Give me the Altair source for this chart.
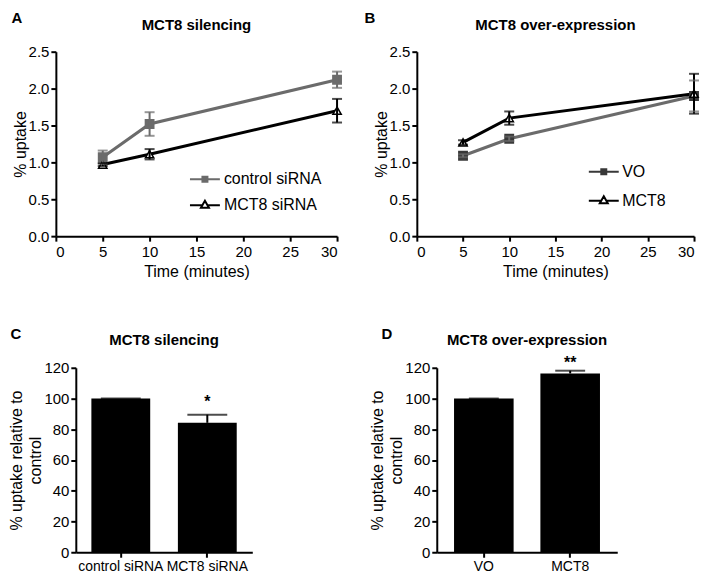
import altair as alt
import pandas as pd

FONT = "Liberation Sans"

# ---- data ----
time_min = [5, 10, 30]

# Panel A: MCT8 silencing
sil_series = ["control siRNA", "MCT8 siRNA"]
ctrl_sirna = [1.07, 1.52, 2.12]
ctrl_sirna_err = [0.09, 0.16, 0.11]
mct8_sirna = [0.97, 1.11, 1.70]
mct8_sirna_err = [0.02, 0.07, 0.16]

# Panel B: MCT8 over-expression
ovx_series = ["VO", "MCT8"]
vo_uptake = [1.09, 1.32, 1.90]
vo_err = [0.02, 0.03, 0.21]
mct8_uptake = [1.27, 1.60, 1.93]
mct8_err = [0.03, 0.09, 0.27]

y_ticks_line = [0, 0.5, 1.0, 1.5, 2.0, 2.5]
x_ticks_line = [0, 5, 10, 15, 20, 25, 30]

# Panel C
sil_groups = ["control siRNA", "MCT8 siRNA"]
sil_values = [100, 84.2]
sil_err = [0, 5.3]
sil_stars = ["", "*"]
sil_star_y = [0, 98]

# Panel D
ovx_groups = ["VO", "MCT8"]
ovx_values = [100, 116.3]
ovx_err = [0, 1.8]
ovx_stars = ["", "**"]
ovx_star_y = [0, 123.4]

y_ticks_bar = [0, 20, 40, 60, 80, 100, 120]

panel_letters = ["A", "B", "C", "D"]

SQ_PATH = "M-1.2,0H1.2M-0.2,-0.2H0.2V0.2H-0.2Z"
TRI_PATH = "M-1.2,0H-0.2M0.2,0H1.2M0,-0.36L0.32,0.2L-0.32,0.2Z"

H = 185


def spacer(w, letter, ldx, ldy):
    base = alt.Chart(pd.DataFrame({"s": [0], "t": [letter]}))
    inv = base.mark_point(opacity=0).encode(
        x=alt.X("s:Q", axis=None), y=alt.Y("s:Q", axis=None))
    txt = base.mark_text(font=FONT, fontSize=15, fontWeight="bold", color="black",
                         align="center", baseline="middle").encode(
        text="t:N", x=alt.value(ldx), y=alt.value(ldy))
    return alt.layer(inv, txt).properties(width=w, height=H)


def line_panel(names, ys, errs, colors, fills, title,
               leg_x, leg_y, row_pad, label_off, width):
    rows = []
    for name, yv, ev in zip(names, ys, errs):
        for t, v, e in zip(time_min, yv, ev):
            rows.append(dict(series=name, time=t, value=v, lo=v - e, hi=v + e))
    df = pd.DataFrame(rows)
    base = alt.Chart(df)
    x = alt.X("time:Q", scale=alt.Scale(domain=[0, 30], nice=False),
              axis=alt.Axis(values=x_ticks_line, title="Time (minutes)",
                            labelPadding=3, titlePadding=4, labelOverlap=False))
    y = alt.Y("value:Q", scale=alt.Scale(domain=[0, 2.5], nice=False),
              axis=alt.Axis(values=y_ticks_line, format=".1f", title="% uptake",
                            labelPadding=2, titlePadding=0, labelOverlap=False,
                            tickCount=6))
    col = alt.Color("series:N", scale=alt.Scale(domain=names, range=colors), legend=None)
    lines = base.mark_line(strokeWidth=3).encode(x=x, y=y, color=col)
    rule = base.mark_rule(strokeWidth=2).encode(x="time:Q", y="lo:Q", y2="hi:Q", color=col)
    cap_lo = base.mark_tick(orient="horizontal", size=10, thickness=2).encode(
        x="time:Q", y="lo:Q", color=col)
    cap_hi = base.mark_tick(orient="horizontal", size=10, thickness=2).encode(
        x="time:Q", y="hi:Q", color=col)
    pts = base.mark_point(filled=True, strokeWidth=1.5, opacity=1).encode(
        x="time:Q", y="value:Q",
        shape=alt.Shape("series:N", scale=alt.Scale(domain=names, range=["square", "triangle-up"]), legend=None),
        fill=alt.Fill("series:N", scale=alt.Scale(domain=names, range=fills), legend=None),
        stroke=alt.Stroke("series:N", scale=alt.Scale(domain=names, range=colors), legend=None),
        size=alt.value(70),
    )
    leg = alt.Legend(orient="none", legendX=leg_x, legendY=leg_y, title=None,
                     symbolSize=625, symbolStrokeWidth=2, labelFont=FONT,
                     labelFontSize=16, labelColor="black", labelOffset=label_off,
                     rowPadding=row_pad, padding=0, symbolOpacity=1)
    legend_layer = base.transform_filter("false").mark_point(filled=True).encode(
        shape=alt.Shape("series:N", scale=alt.Scale(domain=names, range=[SQ_PATH, TRI_PATH]), legend=leg),
        fill=alt.Fill("series:N", scale=alt.Scale(domain=names, range=fills), legend=leg),
        stroke=alt.Stroke("series:N", scale=alt.Scale(domain=names, range=colors), legend=leg),
    )
    return alt.layer(lines, pts, rule, cap_lo, cap_hi, legend_layer).resolve_scale(
        shape="independent", fill="independent", stroke="independent"
    ).properties(width=width, height=H,
                 title=alt.TitleParams(title, frame="group", offset=12))


def bar_panel(groups, values, errs, stars, star_y, title, width, pin, pout, cap, toff):
    df = pd.DataFrame({"group": groups, "value": values,
                       "hi": [v + e for v, e in zip(values, errs)],
                       "star": stars, "star_y": star_y})
    base = alt.Chart(df)
    x = alt.X("group:N", sort=groups,
              scale=alt.Scale(paddingInner=pin, paddingOuter=pout),
              axis=alt.Axis(title=None, labelAngle=0, labelFontSize=14, labelPadding=2))
    y = alt.Y("value:Q", scale=alt.Scale(domain=[0, 120], nice=False),
              axis=alt.Axis(values=y_ticks_bar, title=["% uptake relative to", "control"],
                            titleLineHeight=19, labelPadding=2, titlePadding=0,
                            labelOverlap=False, tickCount=7))
    bars = base.mark_bar(color="black").encode(x=x, y=y)
    rule = base.mark_rule(strokeWidth=2, color="black").encode(
        x=alt.X("group:N", sort=groups), y="value:Q", y2="hi:Q")
    caps = base.mark_tick(orient="horizontal", size=cap, thickness=2, color="black").encode(
        x=alt.X("group:N", sort=groups), y="hi:Q")
    st = base.mark_text(font=FONT, fontSize=16, fontWeight="bold", color="black",
                        baseline="middle").encode(
        x=alt.X("group:N", sort=groups), y="star_y:Q", text="star:N")
    return alt.layer(bars, rule, caps, st).properties(
        width=width, height=H,
        title=alt.TitleParams(title, frame="group", offset=toff))


panel_a = line_panel(sil_series, [ctrl_sirna, mct8_sirna], [ctrl_sirna_err, mct8_sirna_err],
                     ["#6b6b6b", "black"], ["#6b6b6b", "white"], "MCT8 silencing",
                     136, 114.5, 4, 5.5, 282)
panel_b = line_panel(ovx_series, [vo_uptake, mct8_uptake], [vo_err, mct8_err],
                     ["#383838", "black"], ["#383838", "white"], "MCT8 over-expression",
                     174, 107, 7, 5, 278)
panel_c = bar_panel(sil_groups, sil_values, sil_err, sil_stars, sil_star_y,
                    "MCT8 silencing", 177, 0.32, 0.18, 40, 13)
panel_d = bar_panel(ovx_groups, ovx_values, ovx_err, ovx_stars, ovx_star_y,
                    "MCT8 over-expression", 181, 0.31, 0.2, 30, 7)

row1 = alt.hconcat(spacer(1, panel_letters[0], -38, -34), panel_a,
                   spacer(80, panel_letters[1], 33, -34), panel_b,
                   spacing=0, bounds="flush")
row2 = alt.hconcat(spacer(21, panel_letters[2], -39, -34), panel_c,
                   spacer(185, panel_letters[3], 135, -34), panel_d,
                   spacing=0, bounds="flush")

chart = alt.vconcat(row1, row2, spacing=48).properties(
    padding={"top": 2, "left": 0, "right": 0, "bottom": 0}
).configure_view(stroke=None).configure_axis(
    domainColor="black", domainWidth=2, tickColor="black", tickWidth=2, tickSize=5,
    labelFont=FONT, labelFontSize=15, labelColor="black", labelOverlap=False,
    titleFont=FONT, titleFontSize=16, titleFontWeight="normal", titleColor="black",
    grid=False
).configure_title(font=FONT, fontSize=15, fontWeight="bold", color="black", anchor="middle")

chart.save("out.html", embed_options={"renderer": "svg", "actions": False})
